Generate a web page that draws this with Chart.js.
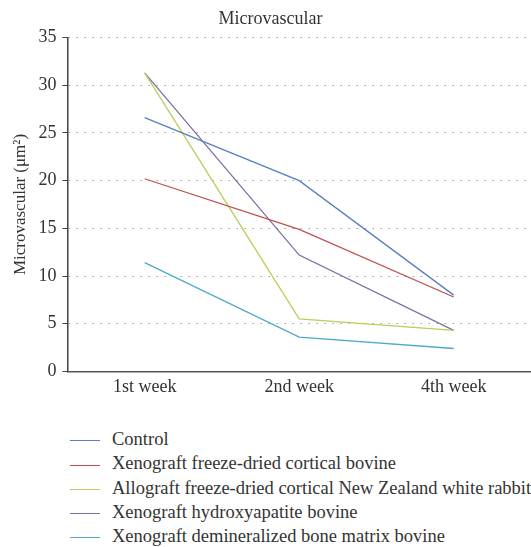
<!DOCTYPE html>
<html>
<head>
<meta charset="utf-8">
<script src="https://cdn.jsdelivr.net/npm/chart.js@4.4.1/dist/chart.umd.min.js"></script>
<style>
  html, body { margin: 0; padding: 0; background: #fff; }
  #wrap { position: relative; width: 531px; height: 547px; overflow: hidden; }
  #chart { position: absolute; left: 0; top: 0; }
  #legend { position: absolute; left: 70px; top: 427px; font-family: "Liberation Serif", serif; font-size: 18.5px; color: #333; }
  #legend div { height: 24.3px; line-height: 24.3px; white-space: nowrap; }
  #legend span.swatch { display: inline-block; width: 30px; height: 0; border-top: 1.3px solid; vertical-align: middle; margin-right: 12px; }
</style>
</head>
<body>
<div id="wrap">
  <canvas id="chart" width="531" height="403"></canvas>
  <div id="legend"></div>
</div>
<script>
// chart data
const weeks = ['1st week', '2nd week', '4th week'];
const seriesNames = [
  'Control',
  'Xenograft freeze-dried cortical bovine',
  'Allograft freeze-dried cortical New Zealand white rabbit',
  'Xenograft hydroxyapatite bovine',
  'Xenograft demineralized bone matrix bovine'
];
const control = [26.6, 20.0, 8.0];
const xenoCortical = [20.2, 14.9, 7.8];
const alloRabbit = [31.3, 5.5, 4.3];
const xenoHydroxy = [31.3, 12.2, 4.3];
const xenoDbm = [11.4, 3.6, 2.4];
const yTicks = [0, 5, 10, 15, 20, 25, 30, 35];

const colors = ['#5a7fbf', '#c0504d', '#bfcb5a', '#7d6ea5', '#4bacc6'];
const values = [control, xenoCortical, alloRabbit, xenoHydroxy, xenoDbm];
const serif = '"Liberation Serif", serif';

const datasets = values.map((v, i) => ({
  label: seriesNames[i],
  data: v,
  borderColor: colors[i],
  backgroundColor: colors[i],
  borderWidth: 1.3,
  pointRadius: 0,
  tension: 0,
  fill: false
}));

const chart = new Chart(document.getElementById('chart').getContext('2d'), {
  type: 'line',
  data: { labels: weeks, datasets: datasets },
  options: {
    responsive: false,
    animation: false,
    layout: { padding: { left: 10, right: 0, top: 0, bottom: 0 } },
    plugins: {
      legend: { display: false },
      tooltip: { enabled: false },
      title: {
        display: true,
        text: 'Microvascular',
        color: '#333',
        font: { family: serif, size: 18, weight: 'normal' },
        padding: { top: 8, bottom: 8 }
      }
    },
    scales: {
      x: {
        offset: true,
        grid: { display: false, drawTicks: false },
        border: { display: true, color: '#555', width: 1.5 },
        ticks: { color: '#333', font: { family: serif, size: 18 }, padding: 5 }
      },
      y: {
        min: 0,
        max: 35,
        afterBuildTicks: axis => { axis.ticks = yTicks.map(v => ({ value: v })); },
        grid: {
          color: '#a0a0a0',
          lineWidth: 1,
          tickLength: 5,
          tickColor: '#444',
          tickBorderDash: []
        },
        border: { display: true, color: '#444', width: 1.5, dash: [1.5, 6.5] },
        ticks: { color: '#333', font: { family: serif, size: 18 }, padding: 6 },
        title: {
          display: true,
          text: 'Microvascular (\u03bcm\u00b2)',
          color: '#333',
          font: { family: serif, size: 17 },
          padding: { top: 0, bottom: 2 }
        }
      }
    }
  }
});

// legend, one series per row
const legend = document.getElementById('legend');
chart.data.datasets.forEach(ds => {
  const row = document.createElement('div');
  const sw = document.createElement('span');
  sw.className = 'swatch';
  sw.style.borderTopColor = ds.borderColor;
  row.appendChild(sw);
  row.appendChild(document.createTextNode(ds.label));
  legend.appendChild(row);
});
</script>
</body>
</html>
